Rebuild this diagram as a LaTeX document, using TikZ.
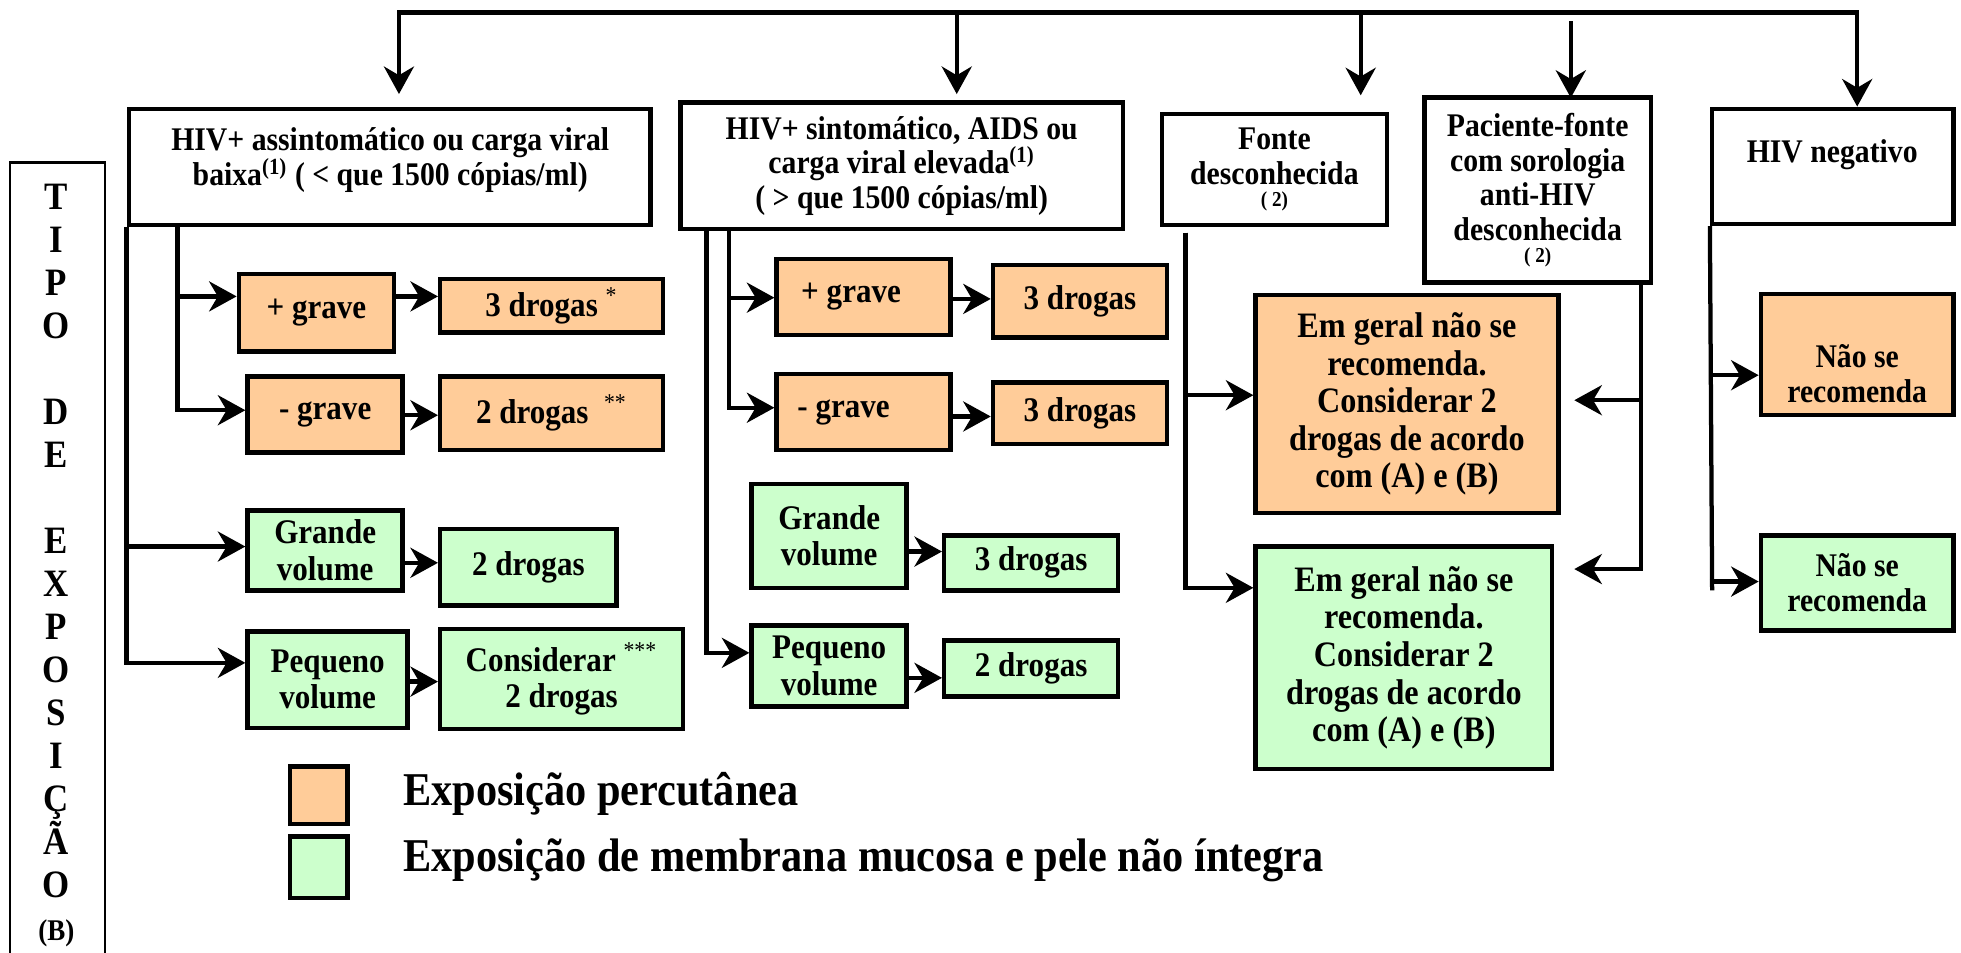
\documentclass[tikz,border=0pt]{standalone}
\usepackage{fontspec}
\setmainfont[FakeStretch=0.9]{Liberation Serif}
\usetikzlibrary{arrows.meta}
\definecolor{orng}{RGB}{255,204,153}
\definecolor{grn}{RGB}{204,255,204}
\newcommand\bxnode[7]{\node[#1, minimum width={(#5-#3)*0.5pt}, minimum height={(#6-#4)*0.5pt}] (#2) at ({(#3+#5)/2},{(#4+#6)/2}) {#7};}
\begin{document}
\begin{tikzpicture}[x=0.5pt,y=-0.5pt,
 box/.style={draw=black, line width=1.8pt, inner sep=0pt, rectangle},
 ob/.style={box, fill=orng},
 gb/.style={box, fill=grn},
 txt/.style={font=\bfseries\fontsize{13.8}{14.5}\selectfont, align=center, inner sep=0pt},
 htxt/.style={font=\bfseries\fontsize{13.2}{13.8}\selectfont, align=center, inner sep=0pt},
 btxt/.style={font=\bfseries\fontsize{14.3}{15}\selectfont, align=center, inner sep=0pt},
 ntxt/.style={font=\bfseries\fontsize{13.2}{14}\selectfont, align=center, inner sep=0pt},
 ltxt/.style={font=\bfseries\fontsize{18.8}{20}\selectfont, anchor=west, inner sep=0pt},
 ln/.style={line width=1.7pt},
 arr/.style={ln, -{Stealth[length=11pt,width=12pt,inset=3.5pt]}},
]
\useasboundingbox (0,0) rectangle (1568,762);
\fill[white] (0,0) rectangle (1568,762);

% header boxes
\bxnode{box}{b1}{103}{87}{520}{180}{}
\node[htxt] (b1t) at (312,128) {HIV+ assintomático ou carga viral\\ baixa\textsuperscript{(1)} ( < que 1500 cópias/ml)};
\bxnode{box,htxt}{b2}{544}{82}{898}{183}{HIV+ sintomático, AIDS ou\\ carga viral elevada\textsuperscript{(1)}\\ ( > que 1500 cópias/ml)}
\bxnode{box,htxt}{b3}{929}{91}{1109}{180}{Fonte\\ desconhecida\\[-5pt] {\fontsize{8.5}{9}\selectfont ( 2)}}
\bxnode{box,htxt}{b4}{1139}{78}{1320}{226}{Paciente-fonte\\ com sorologia\\ anti-HIV\\ desconhecida\\[-5pt] {\fontsize{8.5}{9}\selectfont ( 2)}}
\bxnode{box}{b5}{1369}{87}{1562}{179}{}
\node[htxt] (b5t) at (1465,124) {HIV negativo};

% left vertical label
\draw[line width=1.1pt] (8,770) -- (8,130) -- (84,130) -- (84,770);
\node[font={\bfseries\fontsize{15.5}{17.2}\selectfont\lineskiplimit=-30pt}, align=center, inner sep=0pt] (tipo) at (45,452)
 {T\\I\\P\\O\\\mbox{}\\D\\E\\\mbox{}\\E\\X\\P\\O\\S\\I\\Ç\\Ã\\O\\{\fontsize{12}{12}\selectfont(B)}};

% column 1
\bxnode{ob,txt}{pg1}{191}{219}{315}{281}{+ grave}
\bxnode{ob,txt}{d1a}{352}{223}{530}{266}{3 drogas {\mdseries\textsuperscript{*}}}
\bxnode{ob,txt}{mg1}{198}{301}{322}{362}{- grave}
\bxnode{ob,txt}{d1b}{352}{301}{530}{360}{2 drogas \ {\mdseries\textsuperscript{**}}}
\bxnode{gb,txt}{gv1}{198}{408}{322}{472}{Grande\\volume}
\bxnode{gb,txt}{d1c}{352}{423}{493}{484}{2 drogas}
\bxnode{gb,txt}{pv1}{198}{505}{326}{582}{Pequeno\\volume}
\bxnode{gb,txt}{d1d}{352}{503}{546}{583}{Considerar {\mdseries\textsuperscript{***}}\\ 2 drogas}

% column 2
\bxnode{ob,txt}{pg2}{621}{207}{760}{268}{+ grave\hspace*{10pt}}
\bxnode{ob,txt}{d2a}{794}{212}{933}{270}{3 drogas}
\bxnode{ob,txt}{mg2}{621}{299}{760}{360}{- grave\hspace*{16pt}}
\bxnode{ob,txt}{d2b}{794}{306}{933}{355}{3 drogas}
\bxnode{gb,txt}{gv2}{601}{387}{725}{470}{Grande\\volume}
\bxnode{gb,txt}{d2c}{755}{428}{894}{472}{3 drogas}
\bxnode{gb,txt}{pv2}{601}{500}{725}{565}{Pequeno\\volume}
\bxnode{gb,txt}{d2d}{755}{512}{894}{557}{2 drogas}

% column 3
\bxnode{ob,btxt}{bo}{1004}{236}{1246}{410}{Em geral não se\\ recomenda.\\ Considerar 2\\ drogas de acordo\\ com (A) e (B)}
\bxnode{gb,btxt}{bg}{1004}{437}{1241}{615}{Em geral não se\\ recomenda.\\ Considerar 2\\ drogas de acordo\\ com (A) e (B)}

% column 4
\bxnode{ob}{n1}{1408}{235}{1562}{332}{}
\node[ntxt] (n1t) at (1485,299) {Não se\\recomenda};
\bxnode{gb,ntxt}{n2}{1408}{428}{1562}{504}{Não se\\recomenda}

% legend
\bxnode{ob}{leg1}{232}{613}{278}{659}{}
\bxnode{gb}{leg2}{232}{669}{278}{718}{}
\node[ltxt] (lt1) at (322,635) {Exposição percutânea};
\node[ltxt] (lt2) at (322,688) {Exposição de membrana mucosa e pele não íntegra};

% top bus
\coordinate (t1) at (319,10);
\coordinate (t2) at (765,10);
\coordinate (t3) at (1088,10);
\coordinate (t4) at (1256,17);
\coordinate (t5) at (1485,10);
\draw[arr] (t1) -- (t5) -- (t5 |- b5.north);
\draw[arr, line cap=rect, shorten >=5pt] (t1) -- (t1 |- b1.north);
\draw[arr, shorten >=2.5pt] (t2) -- (t2 |- b2.north);
\draw[arr, shorten >=6.5pt] (t3) -- (t3 |- b3.north);
\draw[arr, shorten >=-1pt] (t4) -- (t4 |- b4.north);

% column 1 connectors
\coordinate (s1i) at (142,180);
\draw[arr] (b1.south west) |- (gv1.west |- 0,437);
\draw[arr] (b1.south west) |- (pv1.west |- 0,530);
\draw[arr] (s1i) |- (pg1.west |- 0,237);
\draw[arr] (s1i) |- (mg1.west |- 0,328);
\draw[arr] (pg1.east |- 0,237) -- (d1a.west |- 0,237);
\draw[arr] (mg1.east |- 0,332) -- (d1b.west |- 0,332);
\draw[arr] (gv1.east |- 0,450) -- (d1c.west |- 0,450);
\draw[arr] (pv1.east |- 0,545) -- (d1d.west |- 0,545);

% column 2 connectors
\coordinate (s2o) at (565,183);
\coordinate (s2i) at (583,183);
\draw[arr] (s2o) |- (pv2.west |- 0,522);
\draw[arr] (s2i) |- (pg2.west |- 0,238);
\draw[arr] (s2i) |- (mg2.west |- 0,326);
\draw[arr] (pg2.east |- 0,239) -- (d2a.west |- 0,239);
\draw[arr] (mg2.east |- 0,333) -- (d2b.west |- 0,333);
\draw[arr] (gv2.east |- 0,441) -- (d2c.west |- 0,441);
\draw[arr] (pv2.east |- 0,542) -- (d2d.west |- 0,542);

% column 3 connectors
\coordinate (s3) at (948,186);
\draw[arr] (s3) |- (bo.west |- 0,316);
\draw[arr] (s3) |- (bg.west |- 0,470);
\coordinate (s4) at (1312,226);
\draw[arr, shorten >=5.5pt] (s4) |- (bo.east |- 0,320);
\draw[arr, shorten >=8pt] (s4) |- (bg.east |- 0,455);

% column 4 connectors
\coordinate (s5e) at (1369,472);
\draw[ln] (b5.south west) -- (s5e);
\draw[arr] (b5.south west |- 0,300) -- (n1.west |- 0,300);
\draw[arr] (b5.south west |- 0,465) -- (n2.west |- 0,465);
\end{tikzpicture}
\end{document}
